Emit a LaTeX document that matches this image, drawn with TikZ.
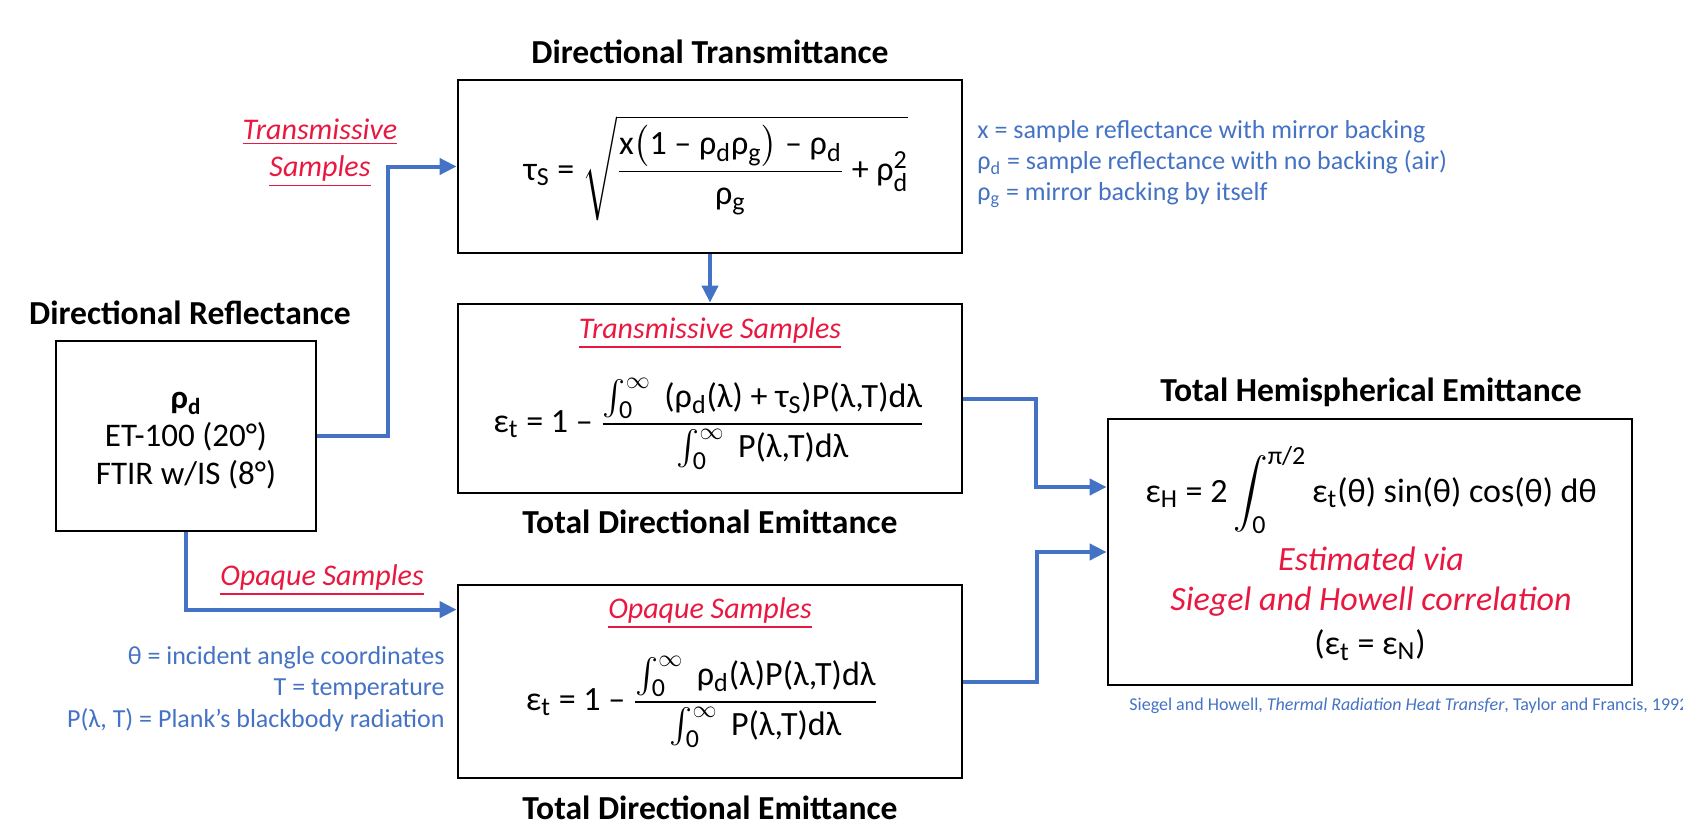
\documentclass[tikz,border=0pt]{standalone}
\usepackage{fontspec}
\setmainfont{Carlito}
\usepackage{amsmath}
\usetikzlibrary{arrows.meta}
\definecolor{flowblue}{RGB}{68,114,196}
\definecolor{notered}{RGB}{232,24,64}
% larger sub- and superscripts in the formulas
\DeclareMathSizes{17}{17}{13}{10}
% upright Carlito glyphs inside formulas
\newcommand{\g}[1]{\text{#1}}
\newcommand{\redlbl}[1]{\textcolor{notered}{\underline{\itshape #1}}}
\begin{document}
\begin{tikzpicture}[x=0.5pt,y=-0.5pt,
  panel/.style={draw, line width=1.4pt, inner sep=0pt},
  flow/.style={draw=flowblue, line width=2pt, -{Triangle[length=8.5pt,width=8pt]}},
  heading/.style={font=\fontsize{16.8}{19}\selectfont\bfseries},
  body/.style={font=\fontsize{16.5}{19}\selectfont, align=center},
  formula/.style={font=\fontsize{17}{20}\selectfont, align=center},
  note/.style={text=flowblue, font=\fontsize{13}{15.6}\selectfont, inner sep=0pt},
  redlabel/.style={font=\fontsize{15}{18.5}\selectfont, align=center},
  cite/.style={text=flowblue, font=\fontsize{9}{11}\selectfont, inner sep=0pt}]
\useasboundingbox (0,0) rectangle (1683,830);

% boxes
\node[panel, minimum width=130pt, minimum height=95pt] (refl) at (186,436) {};
\node[panel, minimum width=252pt, minimum height=86.5pt] (trans) at (710,166.5) {};
\node[panel, minimum width=252pt, minimum height=94.5pt] (temit) at (710,398.5) {};
\node[panel, minimum width=252pt, minimum height=96.5pt] (oemit) at (710,681.5) {};
\node[panel, minimum width=262pt, minimum height=133pt] (hemi) at (1370,552) {};

% headings
\node[heading] (hRefl) at (190,313) {Directional Reflectance};
\node[heading] (hTrans) at (710,52) {Directional Transmittance};
\node[heading] (hTemit) at (710,522) {Total Directional Emittance};
\node[heading] (hOemit) at (710,808) {Total Directional Emittance};
\node[heading] (hHemi) at (1371,392) {Total Hemispherical Emittance};

% reflectance box content
\node[body] (reflText) at (186,441) {\textbf{ρ\textsubscript{d}}\\ET-100 (20°)\\FTIR w/IS (8°)};

% transmittance formula
\node[formula] (fTrans) at (716,168) {\(\g{τ}_{\g{S}}\g{ = }\sqrt{\dfrac{\g{x}\bigl(\g{1 – ρ}_{\g{d}}\g{ρ}_{\g{g}}\bigr)\g{ – ρ}_{\g{d}}}{\g{ρ}_{\g{g}}}\g{ + ρ}_{\g{d}}^{\g{2}}}\)};

% transmissive emittance
\node[redlabel] (tLbl) at (710,333) {\redlbl{Transmissive Samples}};
\node[formula] (fTemit) at (709,424) {\(\g{ε}_{\g{t}}\g{ = 1 – }\dfrac{\int_{\g{0}}^{\infty}\g{ (ρ}_{\g{d}}\g{(λ) + τ}_{\g{S}}\g{)P(λ,T)dλ}}{\int_{\g{0}}^{\infty}\g{ P(λ,T)dλ}}\)};

% opaque emittance
\node[redlabel] (oLbl) at (710,613) {\redlbl{Opaque Samples}};
\node[formula] (fOemit) at (702,702) {\(\g{ε}_{\g{t}}\g{ = 1 – }\dfrac{\int_{\g{0}}^{\infty}\g{ ρ}_{\g{d}}\g{(λ)P(λ,T)dλ}}{\int_{\g{0}}^{\infty}\g{ P(λ,T)dλ}}\)};

% hemispherical emittance
\node[formula] (fHemi) at (1371,490) {\(\g{ε}_{\g{H}}\g{ = 2}\displaystyle\int_{\g{0}}^{\g{π/2}}\g{ε}_{\g{t}}\g{(θ) sin(θ) cos(θ) dθ}\)};
\node[font=\fontsize{17}{20}\selectfont\itshape, text=notered, align=center] (hRed) at (1371,582) {Estimated via\\Siegel and Howell correlation};
\node[formula] (hEq) at (1370,645) {\(\g{(ε}_{\g{t}}\g{ = ε}_{\g{N}}\g{)}\)};

% side labels
\node[redlabel] (sideT) at (320,153) {\redlbl{Transmissive}\\\redlbl{Samples}};
\node[redlabel] (sideO) at (322,580) {\redlbl{Opaque Samples}};

% notes
\node[note, anchor=west, align=left] (notesT) at (977,164) {x = sample reflectance with mirror backing\\ρ\textsubscript{d} = sample reflectance with no backing (air)\\ρ\textsubscript{g} = mirror backing by itself};
\node[note, anchor=east, align=right] (notesB) at (445,689) {θ = incident angle coordinates\\T = temperature\\P(λ, T) = Plank’s blackbody radiation};
\node[cite, anchor=west] (cite) at (1129,706) {Siegel and Howell, \textit{Thermal Radiation Heat Transfer}, Taylor and Francis, 1992};

% connectors
\coordinate (oIn) at ([yshift=-13pt]oemit.north west);
\coordinate (hInA) at ([yshift=32.5pt]hemi.west);
\coordinate (hInB) at (hemi.west);
\draw[flow] (refl.east) -- ++(71,0) |- (trans.west);
\draw[flow] (refl.south) |- (oIn);
\draw[flow] (trans.south) -- (temit.north);
\draw[flow] (temit.east) -- ++(73,0) |- (hInA);
\draw[flow] (oemit.east) -- ++(74,0) |- (hInB);
\end{tikzpicture}
\end{document}
